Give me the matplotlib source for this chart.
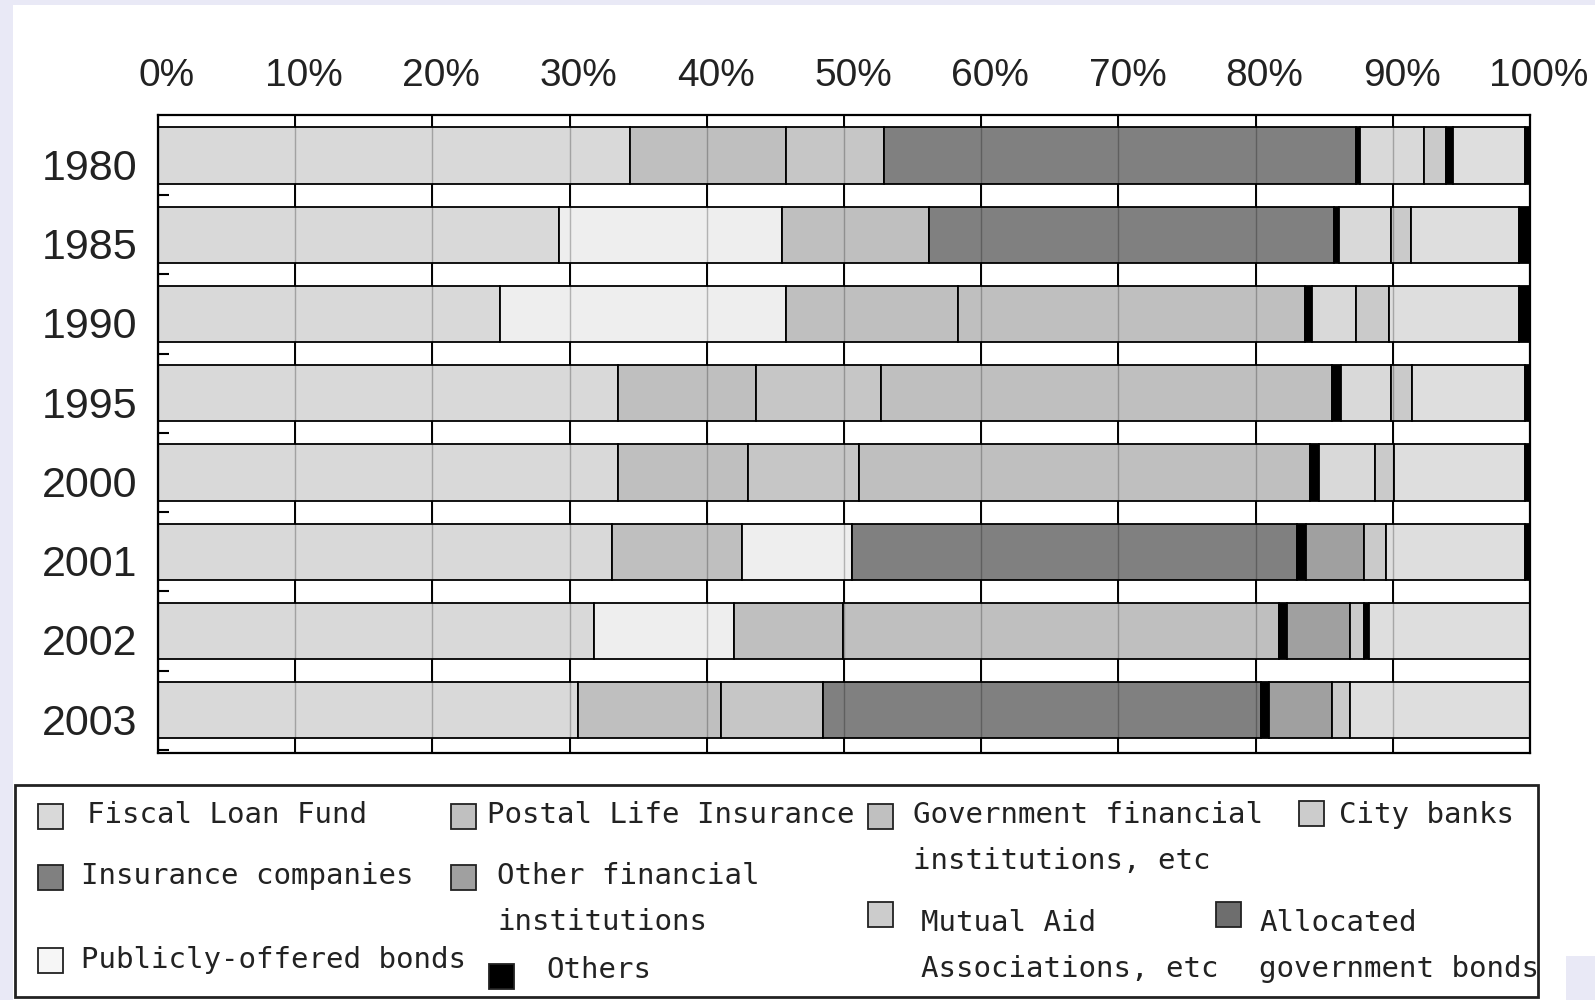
import matplotlib
matplotlib.use('Agg')
import matplotlib.pyplot as plt
import matplotlib.transforms as mtransforms
from matplotlib.patches import Rectangle

plt.rcParams['font.family'] = ['Liberation Sans', 'DejaVu Sans']

years = ['1980', '1985', '1990', '1995', '2000', '2001', '2002', '2003']

# shares (%) of each bar, segments left to right
v1980 = [34.4, 11.4, 7.1, 34.4, 0.3, 4.7, 1.6, 0.5, 5.2, 0.4]
v1985 = [29.2, 16.3, 10.7, 29.5, 0.4, 3.8, 1.4, 7.9, 0.8]
v1990 = [24.9, 20.9, 12.5, 25.3, 0.5, 3.2, 2.4, 9.5, 0.8]
v1995 = [33.5, 10.1, 9.1, 32.9, 0.6, 3.7, 1.5, 8.2, 0.4]
v2000 = [33.5, 9.5, 8.1, 32.9, 0.6, 4.1, 1.4, 9.5, 0.4]
v2001 = [33.1, 9.5, 8.0, 32.4, 0.7, 4.2, 1.6, 10.1, 0.4]
v2002 = [31.8, 10.2, 7.9, 31.8, 0.6, 4.6, 1.0, 0.4, 11.7]
v2003 = [30.6, 10.4, 7.5, 31.9, 0.6, 4.6, 1.3, 13.1]
shares = [v1980, v1985, v1990, v1995, v2000, v2001, v2002, v2003]

legend_names = ['Fiscal Loan Fund', 'Postal Life Insurance',
                'Government financial\ninstitutions, etc', 'City banks',
                'Insurance companies', 'Other financial\ninstitutions',
                'Mutual Aid\nAssociations, etc', 'Allocated\ngovernment bonds',
                'Publicly-offered bonds', 'Others']

# fills for each segment (style, same order as the values above)
D9, EE, C0, C6, DK, A0, C8, DE, K = ('#d9d9d9', '#eeeeee', '#bfbfbf', '#c6c6c6',
                                     '#808080', '#a0a0a0', '#cacaca', '#dedede', '#000000')
fills = [
    [D9, C0, C6, DK, K, D9, C8, K, DE, K],
    [D9, EE, C0, DK, K, D9, C8, DE, K],
    [D9, EE, C0, C0, K, D9, C8, DE, K],
    [D9, C0, C6, C0, K, D9, C8, DE, K],
    [D9, C0, C6, C0, K, D9, C8, DE, K],
    [D9, C0, EE, DK, K, A0, C8, DE, K],
    [D9, EE, C0, C0, K, A0, C8, K, DE],
    [D9, C0, C6, DK, K, A0, C8, DE],
]
legend_colors = ['#d9d9d9', '#c0c0c0', '#c0c0c0', '#cccccc', '#808080',
                 '#a0a0a0', '#cccccc', '#6e6e6e', '#f6f6f6', '#000000']

W, H = 1595, 1000
fig = plt.figure(figsize=(W / 100, H / 100), dpi=100)
fig.patch.set_facecolor('#e9e9f6')
fig.patches.append(Rectangle((13 / W, 0), 1, 1 - 5 / H, transform=fig.transFigure,
                             facecolor='white', edgecolor='none', zorder=-10))
fig.patches.append(Rectangle((1566 / W, 0), 1, 44 / H, transform=fig.transFigure,
                             facecolor='#e9e9f6', edgecolor='none', zorder=-9))

ax = fig.add_axes([158 / W, 1 - 753 / H, (1530 - 158) / W, (753 - 115) / H])

for i, (vals, cols) in enumerate(zip(shares, fills)):
    left = 0
    for v, c in zip(vals, cols):
        ax.barh(i, v, left=left, height=0.71, color=c, edgecolor='black',
                linewidth=1.3, zorder=2)
        left += v

ticks = list(range(0, 101, 10))
ax.set_xlim(0, 100)
ax.set_ylim(7.54, -0.51)
ax.xaxis.tick_top()
ax.set_xticks(ticks)
ax.set_xticklabels([f'{t}%' for t in ticks], fontsize=28, color='#222222')
ax.tick_params(axis='x', length=0, pad=15)
ax.set_yticks(range(len(years)))
ax.set_yticklabels(years, fontsize=31, color='#222222')
ax.tick_params(axis='y', length=0, pad=15)
ax.set_yticks([i + 0.5 for i in range(len(years))], minor=True)
ax.tick_params(axis='y', which='minor', direction='in', length=8, width=1.5)

ax.set_axisbelow(True)
ax.grid(axis='x', color='black', lw=1.4, zorder=0)
for t in ticks:
    ax.axvline(t, color='black', lw=1, alpha=0.25, zorder=3)
for s in ax.spines.values():
    s.set_linewidth(1.6)

dx = mtransforms.ScaledTranslation(0.09, 0, fig.dpi_scale_trans)
for lab in ax.get_xticklabels():
    lab.set_transform(lab.get_transform() + dx)
dy = mtransforms.ScaledTranslation(0, -0.09, fig.dpi_scale_trans)
for lab in ax.get_yticklabels():
    lab.set_transform(lab.get_transform() + dy)

# legend box drawn by hand (wrapped entries as in the original)
def px(x, y):
    return x / W, 1 - y / H

fig.patches.append(Rectangle(px(15, 997), (1538 - 15) / W, (997 - 785) / H,
                             transform=fig.transFigure, facecolor='white',
                             edgecolor='#222222', lw=2, zorder=1))

# (box x, box top y, text x, text y) in pixels from the top-left
spots = [(38, 804, 87, 815), (451, 804, 487, 815), (868, 804, 913, 815),
         (1299, 801, 1339, 815), (38, 865, 81, 876), (451, 865, 497, 876),
         (868, 902, 921, 923), (1216, 902, 1259, 923), (38, 948, 81, 960),
         (489, 964, 546, 970)]
for name, col, (bx, by, tx, ty) in zip(legend_names, legend_colors, spots):
    fig.patches.append(Rectangle(px(bx, by + 25), 25 / W, 25 / H,
                                 transform=fig.transFigure, facecolor=col,
                                 edgecolor='#222222', lw=1.3, zorder=2))
    for k, line in enumerate(name.split('\n')):
        fig.text(*px(tx, ty + 46 * k), line, fontsize=21, family='DejaVu Sans Mono',
                 color='#222222', ha='left', va='center', zorder=3)

fig.savefig('out.png', dpi=100, facecolor=fig.get_facecolor())
